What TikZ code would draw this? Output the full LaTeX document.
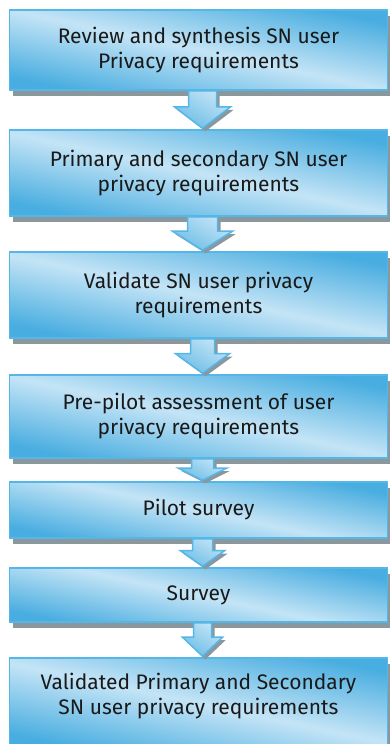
\documentclass[tikz,border=0pt]{standalone}
\usepackage{fontspec}
\setmainfont{Fira Sans}
\usetikzlibrary{calc,shadows}
\definecolor{boxlight}{HTML}{C4E4F6}
\definecolor{boxdark}{HTML}{48ADE0}
\definecolor{boxline}{HTML}{55B6E8}
\definecolor{shadowgray}{HTML}{8A979C}
\tikzset{
	stepbox/.style={draw=boxline, line width=1.5pt, top color=boxdark, bottom color=boxdark, middle color=boxlight, shading angle=-12,
		minimum width=378pt, align=center, text=black!90, font=\fontsize{21}{25}\selectfont,
		drop shadow={shadow xshift=3pt, shadow yshift=-6pt, fill=shadowgray, opacity=1}},
	arrowshape/.style={draw=boxline, line width=1.5pt, top color=boxlight, bottom color=boxdark!80, shading angle=-30,
		drop shadow={shadow xshift=3pt, shadow yshift=-3pt, fill=shadowgray, opacity=1}}
}
% #1 from, #2 to, #3 half shaft, #4 half head
\newcommand{\flowarrow}[4]{%
	\path[arrowshape] let \p1=($(#1.south)+(4,0)$), \p2=(#2.north), \n1={\y1-\y2} in
		(\x1-#3,\y1) -- (\x1-#3,\y1-0.42*\n1) -- (\x1-#4,\y1-0.42*\n1) -- (\x1,\y2+1)
		-- (\x1+#4,\y1-0.42*\n1) -- (\x1+#3,\y1-0.42*\n1) -- (\x1+#3,\y1) -- cycle;}
\begin{document}
\begin{tikzpicture}[x=1pt, y=-1pt]
	\useasboundingbox (0,0) rectangle (389,744);

	\node[stepbox, minimum height=80pt] (b1) at (198.5,50) {Review and synthesis SN user\\Privacy requirements};
	\node[stepbox, minimum height=86pt] (b2) at (198.5,173) {Primary and secondary SN user\\privacy requirements};
	\node[stepbox, minimum height=86pt] (b3) at (198.5,295) {Validate SN user privacy\\requirements};
	\node[stepbox, minimum height=83pt] (b4) at (198.5,416.5) {Pre-pilot assessment of user\\privacy requirements};
	\node[stepbox, minimum height=56pt] (b5) at (198.5,510) {Pilot survey};
	\node[stepbox, minimum height=54pt] (b6) at (198.5,595) {Survey};
	\node[stepbox, minimum height=90pt, text depth=18pt] (b7) at (198.5,703) {Validated Primary and Secondary\\SN user privacy requirements};

	%arrows between the steps
	\flowarrow{b1}{b2}{14}{28}
	\flowarrow{b2}{b3}{15}{30}
	\flowarrow{b3}{b4}{12}{27}
	\flowarrow{b4}{b5}{11}{24}
	\flowarrow{b5}{b6}{10}{22}
	\flowarrow{b6}{b7}{9}{20}

\end{tikzpicture}
\end{document}
